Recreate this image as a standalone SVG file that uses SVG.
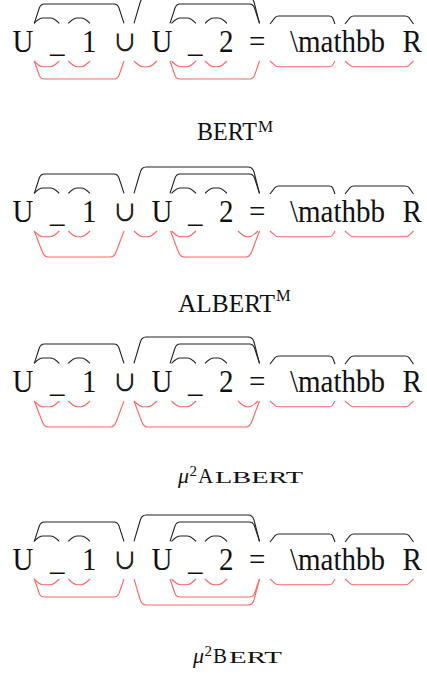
<svg xmlns="http://www.w3.org/2000/svg" width="427" height="677" viewBox="0 0 427 677">
<style>
.tk{font-family:"Liberation Serif","Times New Roman",serif;font-size:29px;fill:#111}
.cup{font-family:"DejaVu Serif","Liberation Serif",serif;font-size:26px;fill:#222}
.cap{font-family:"Liberation Serif","Times New Roman",serif;fill:#111}
.k{fill:none;stroke:#222;stroke-width:1.1}
.r{fill:none;stroke:#f66;stroke-width:1.1}
</style>
<defs>
<g id="hats">
<path class="k" d="M34,23.3 C37,20.3 40,18 43,18 L50.3,18 C53.3,18 56.3,20.3 59.3,23.3"/>
<path class="k" d="M68.3,23.3 C71.3,20.3 74.3,18 77.3,18 L81,18 C84,18 87,20.3 90,23.3"/>
<path class="k" d="M34.3,23.3 L39.3,8 Q40.8,4 44.3,4 L114,4 Q117.5,4 119,8 L124,23.3"/>
<path class="k" d="M171.5,23.3 C174.5,20.3 177.5,18 180.5,18 L187,18 C190,18 193,20.3 196,23.3"/>
<path class="k" d="M205,23.3 C208,20.3 211,18 214,18 L218,18 C221,18 224,20.3 227,23.3"/>
<path class="k" d="M170,23.3 L175,8 Q176.5,4 180,4 L249.5,4 Q253,4 254.5,8 L259.5,23.3"/>
<path class="k" d="M134,23.3 L140,3 Q141.5,-3 146,-3 L248,-3 Q252.5,-3 254,2 L259.5,23.3"/>
<path class="k" d="M270,24 L275,17.6 Q276.5,16 279,16 L329,16 Q331.5,16 332.5,17.6 L335,24"/>
<path class="k" d="M345,24 L350,17.6 Q351.5,16 354,16 L405,16 Q407.5,16 409,17.6 L413.5,24"/>
</g>
</defs>
<g id="connectors">
<use href="#hats"/>
<use href="#hats" y="170"/>
<use href="#hats" y="340"/>
<use href="#hats" y="518"/>
<g id="red1">
<path class="r" d="M34,61 C37,64 40,66.7 43,66.7 L50.3,66.7 C53.3,66.7 56.3,64 59.3,61"/>
<path class="r" d="M68.3,61 C71.3,64 74.3,66.7 77.3,66.7 L81,66.7 C84,66.7 87,64 90,61"/>
<path class="r" d="M34.3,61 L39.3,75.5 Q40.8,79 44.3,79 L114,79 Q117.5,79 119,75.5 L124,61"/>
<path class="r" d="M134,61 C137,64 140,66.7 143,66.7 L148,66.7 C151,66.7 154,64 157,61"/>
<path class="r" d="M171.5,61 C174.5,64 177.5,66.7 180.5,66.7 L187,66.7 C190,66.7 193,64 196,61"/>
<path class="r" d="M205,61 C208,64 211,66.7 214,66.7 L218,66.7 C221,66.7 224,64 227,61"/>
<path class="r" d="M170,61 L175,75.5 Q176.5,79 180,79 L249.5,79 Q253,79 254.5,75.5 L259.5,61"/>
<path class="r" d="M270,61 L275,65.3 Q276.5,66.7 279,66.7 L329,66.7 Q331.5,66.7 332.5,65.3 L335,61"/>
<path class="r" d="M345,61 L350,65.3 Q351.5,66.7 354,66.7 L405,66.7 Q407.5,66.7 409,65.3 L413.5,61"/>
</g>
<g id="red2" transform="translate(0,170)">
<path class="r" d="M34,61 C37,64 40,66.7 43,66.7 L50.3,66.7 C53.3,66.7 56.3,64 59.3,61"/>
<path class="r" d="M68.3,61 C71.3,64 74.3,66.7 77.3,66.7 L81,66.7 C84,66.7 87,64 90,61"/>
<path class="r" d="M34.3,61 L42,81 Q44,87 48,87 L110.5,87 Q114.5,87 116.5,81 L124,61"/>
<path class="r" d="M134,61 C137,64 140,66.7 143,66.7 L148,66.7 C151,66.7 154,64 157,61"/>
<path class="r" d="M171.5,61 C174.5,64 177.5,66.7 180.5,66.7 L187,66.7 C190,66.7 193,64 196,61"/>
<path class="r" d="M238,61 C241,64 244,66.7 247,66.7 L249,66.7 C252,66.7 255,64 258,61"/>
<path class="r" d="M170.5,61 L178,81 Q180,87 184,87 L246,87 Q250,87 252,81 L259.5,61"/>
<path class="r" d="M270,61 L275,65.3 Q276.5,66.7 279,66.7 L329,66.7 Q331.5,66.7 332.5,65.3 L335,61"/>
<path class="r" d="M345,61 L350,65.3 Q351.5,66.7 354,66.7 L405,66.7 Q407.5,66.7 409,65.3 L413.5,61"/>
</g>
<g id="red3" transform="translate(0,340)">
<path class="r" d="M34,61 C37,64 40,66.7 43,66.7 L50.3,66.7 C53.3,66.7 56.3,64 59.3,61"/>
<path class="r" d="M68.3,61 C71.3,64 74.3,66.7 77.3,66.7 L81,66.7 C84,66.7 87,64 90,61"/>
<path class="r" d="M34.3,61 L42,81 Q44,87 48,87 L110.5,87 Q114.5,87 116.5,81 L124,61"/>
<path class="r" d="M134,61 C137,64 140,66.7 143,66.7 L148,66.7 C151,66.7 154,64 157,61"/>
<path class="r" d="M171.5,61 C174.5,64 177.5,66.7 180.5,66.7 L187,66.7 C190,66.7 193,64 196,61"/>
<path class="r" d="M238,61 C241,64 244,66.7 247,66.7 L249,66.7 C252,66.7 255,64 258,61"/>
<path class="r" d="M134,61 L141.5,81 Q143.5,87 147.5,87 L246,87 Q250,87 252,81 L259.5,61"/>
<path class="r" d="M270,61 L275,65.3 Q276.5,66.7 279,66.7 L329,66.7 Q331.5,66.7 332.5,65.3 L335,61"/>
<path class="r" d="M345,61 L350,65.3 Q351.5,66.7 354,66.7 L405,66.7 Q407.5,66.7 409,65.3 L413.5,61"/>
</g>
<g id="red4" transform="translate(0,518)">
<path class="r" d="M34,61 C37,64 40,66.7 43,66.7 L50.3,66.7 C53.3,66.7 56.3,64 59.3,61"/>
<path class="r" d="M68.3,61 C71.3,64 74.3,66.7 77.3,66.7 L81,66.7 C84,66.7 87,64 90,61"/>
<path class="r" d="M34.3,61 L39.3,75.5 Q40.8,79 44.3,79 L114,79 Q117.5,79 119,75.5 L124,61"/>
<path class="r" d="M171.5,61 C174.5,64 177.5,66.7 180.5,66.7 L187,66.7 C190,66.7 193,64 196,61"/>
<path class="r" d="M205,61 C208,64 211,66.7 214,66.7 L218,66.7 C221,66.7 224,64 227,61"/>
<path class="r" d="M170,61 L175,75.5 Q176.5,79 180,79 L249.5,79 Q253,79 254.5,75.5 L259.5,61"/>
<path class="r" d="M134,61 L140,81 Q141.5,87 146,87 L248,87 Q252.5,87 254,82 L259.5,61"/>
<path class="r" d="M270,61 L275,65.3 Q276.5,66.7 279,66.7 L329,66.7 Q331.5,66.7 332.5,65.3 L335,61"/>
<path class="r" d="M345,61 L350,65.3 Q351.5,66.7 354,66.7 L405,66.7 Q407.5,66.7 409,65.3 L413.5,61"/>
</g>
</g>
<g id="row1" transform="translate(0,52) scale(1,1.1)">
<text class="tk" y="0"><tspan x="12.5">U</tspan><tspan x="50">_</tspan><tspan x="82">1</tspan></text>
<text class="cup" x="114" y="-1">∪</text>
<text class="tk" y="0"><tspan x="151.5">U</tspan><tspan x="188">_</tspan><tspan x="219">2</tspan><tspan x="249">=</tspan><tspan x="290">\mathbb</tspan><tspan x="402.5">R</tspan></text>
</g>
<g id="row2" transform="translate(0,222) scale(1,1.1)">
<text class="tk" y="0"><tspan x="12.5">U</tspan><tspan x="50">_</tspan><tspan x="82">1</tspan></text>
<text class="cup" x="114" y="-1">∪</text>
<text class="tk" y="0"><tspan x="151.5">U</tspan><tspan x="188">_</tspan><tspan x="219">2</tspan><tspan x="249">=</tspan><tspan x="290">\mathbb</tspan><tspan x="402.5">R</tspan></text>
</g>
<g id="row3" transform="translate(0,392) scale(1,1.1)">
<text class="tk" y="0"><tspan x="12.5">U</tspan><tspan x="50">_</tspan><tspan x="82">1</tspan></text>
<text class="cup" x="114" y="-1">∪</text>
<text class="tk" y="0"><tspan x="151.5">U</tspan><tspan x="188">_</tspan><tspan x="219">2</tspan><tspan x="249">=</tspan><tspan x="290">\mathbb</tspan><tspan x="402.5">R</tspan></text>
</g>
<g id="row4" transform="translate(0,570) scale(1,1.1)">
<text class="tk" y="0"><tspan x="12.5">U</tspan><tspan x="50">_</tspan><tspan x="82">1</tspan></text>
<text class="cup" x="114" y="-1">∪</text>
<text class="tk" y="0"><tspan x="151.5">U</tspan><tspan x="188">_</tspan><tspan x="219">2</tspan><tspan x="249">=</tspan><tspan x="290">\mathbb</tspan><tspan x="402.5">R</tspan></text>
</g>
<g id="caption1">
<text class="cap" x="197" y="140" font-size="25" textLength="60" lengthAdjust="spacingAndGlyphs">BERT</text>
<text class="cap" x="258" y="131.7" font-size="17">M</text>
</g>
<g id="caption2">
<text class="cap" x="178" y="311.7" font-size="25" textLength="97" lengthAdjust="spacingAndGlyphs">ALBERT</text>
<text class="cap" x="276" y="300.7" font-size="16.5">M</text>
</g>
<g id="caption3">
<text class="cap" x="178" y="483" font-size="22" font-style="italic">μ</text>
<text class="cap" x="189.5" y="476" font-size="15">2</text>
<text class="cap" x="198" y="483" font-size="21">A</text>
<text class="cap" x="215" y="483" font-size="16.5" textLength="88" lengthAdjust="spacingAndGlyphs">LBERT</text>
</g>
<g id="caption4">
<text class="cap" x="193" y="662.7" font-size="22" font-style="italic">μ</text>
<text class="cap" x="204.5" y="656" font-size="15">2</text>
<text class="cap" x="213" y="662.7" font-size="21">B</text>
<text class="cap" x="229" y="662.7" font-size="16.5" textLength="53" lengthAdjust="spacingAndGlyphs">ERT</text>
</g>
</svg>
